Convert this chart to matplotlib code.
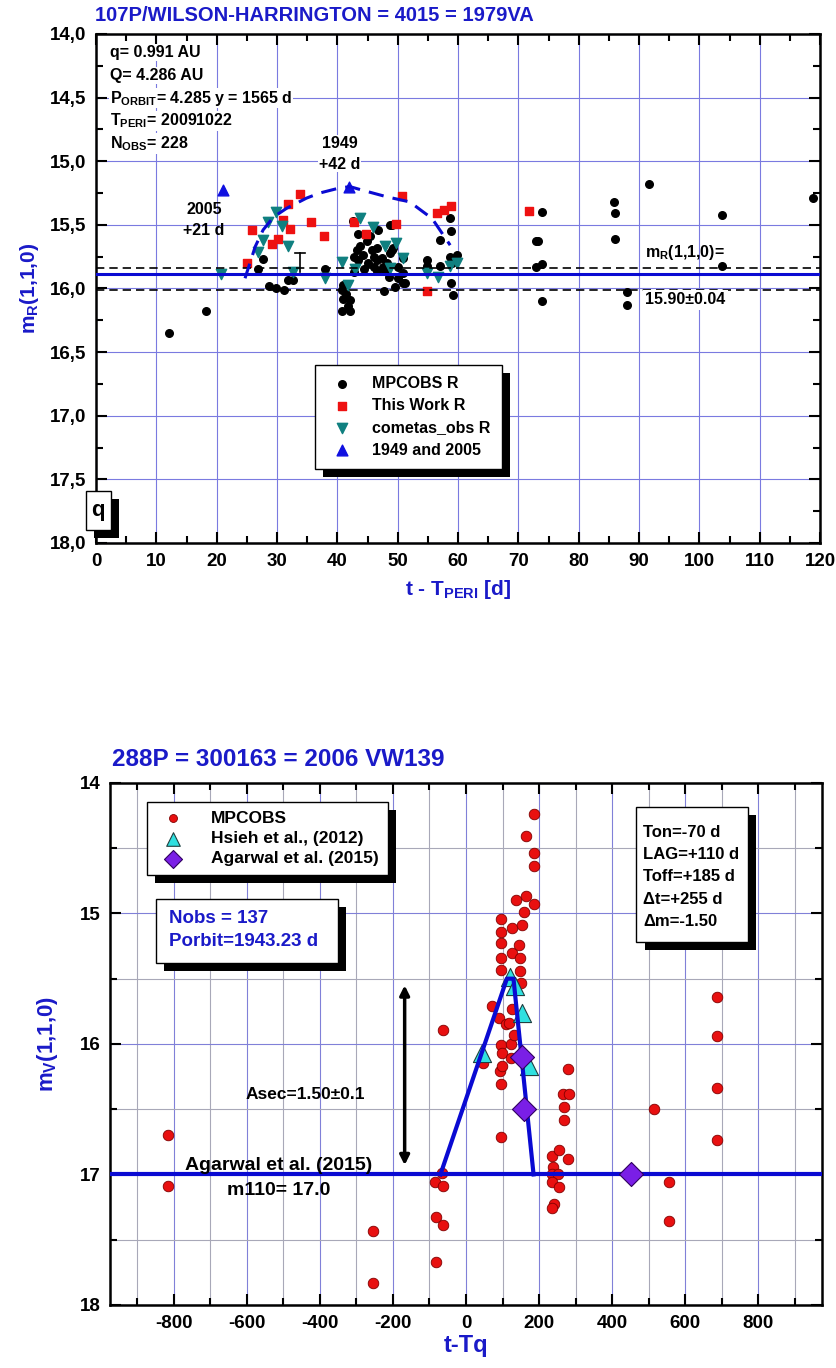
import matplotlib
matplotlib.use("Agg")
import matplotlib.pyplot as plt
import matplotlib.patheffects as pe
from matplotlib.patches import Rectangle
from matplotlib.ticker import MultipleLocator, FuncFormatter
import numpy as np

plt.rcParams['font.family'] = ['Liberation Sans', 'DejaVu Sans']
plt.rcParams['font.weight'] = 'bold'
plt.rcParams['axes.labelweight'] = 'bold'
plt.rcParams['axes.unicode_minus'] = False
plt.rcParams['mathtext.fontset'] = 'custom'
plt.rcParams['mathtext.rm'] = 'Liberation Sans:bold'
plt.rcParams['mathtext.bf'] = 'Liberation Sans:bold'
plt.rcParams['mathtext.it'] = 'Liberation Sans:bold'

BLUE = '#1a1ac8'
LINE_BLUE = '#0a0ad2'

# ---------------- 107P data ----------------
mpc_t = [12.15, 18.2,
         26.9, 27.7, 28.6, 29.8, 31.1, 31.9, 32.7,
         37.9, 40.7, 40.9, 41.0, 41.8, 42.1, 40.7, 42.1, 41.5,
         42.7, 42.65, 43.5, 42.7, 43.2, 43.8, 43.5, 44.3, 44.9, 45.4, 46.8,
         46.0, 46.5, 47.4, 46.0, 46.5, 47.9, 48.2, 48.7, 49.3, 48.5, 47.7,
         49.6, 48.7, 49.0, 50.1, 50.9, 50.9, 51.2, 50.9, 46.5, 47.6, 49.0,
         50.1, 45.0, 44.5, 45.8,
         54.8, 54.8, 57.0, 57.0, 58.7, 58.8, 58.7, 59.0, 58.8, 59.1, 59.8, 59.5,
         73.0, 73.3, 74.0, 73.0, 74.0, 74.0, 85.8, 86.0, 86.0, 88.0, 88.0,
         91.7, 103.7, 103.7, 118.9]
mpc_m = [16.35, 16.18,
         15.85, 15.77, 15.98, 16.00, 16.01, 15.93, 15.93,
         15.85, 16.01, 15.97, 16.08, 16.14, 16.09, 16.18, 16.18, 16.04,
         15.87, 15.47, 15.57, 15.75, 15.70, 15.67, 15.78, 15.74, 15.63, 15.59, 15.54,
         15.75, 15.78, 15.76, 15.83, 15.86, 15.86, 15.80, 15.72, 15.68, 15.91, 16.02,
         15.99, 15.50, 15.50, 15.83, 15.88, 15.96, 15.96, 15.76, 15.68, 15.83, 15.70,
         15.92, 15.80, 15.85, 15.70,
         15.78, 15.82, 15.62, 15.82, 15.45, 15.55, 15.75, 15.80, 15.96, 16.05, 15.74, 15.78,
         15.63, 15.63, 15.40, 15.83, 15.81, 16.10, 15.32, 15.41, 15.61, 16.03, 16.13,
         15.18, 15.42, 15.82, 15.29]

work_t = [25.1, 25.8, 29.1, 30.1, 31.0, 32.2, 31.9, 33.8, 35.7, 37.8,
          42.7, 44.8, 49.8, 50.8, 54.9, 56.5, 57.6, 58.8, 71.8]
work_m = [15.80, 15.54, 15.65, 15.61, 15.46, 15.53, 15.34, 15.26, 15.48, 15.59,
          15.48, 15.57, 15.49, 15.27, 16.02, 15.41, 15.38, 15.35, 15.39]

cometas_t = [20.8, 26.9, 27.7, 28.5, 29.9, 30.8, 31.9, 32.7, 37.9, 40.8, 41.8,
             42.9, 43.8, 45.9, 47.9, 48.7, 49.8, 50.9, 54.8, 56.7, 58.7, 59.8]
cometas_m = [15.89, 15.71, 15.62, 15.48, 15.40, 15.51, 15.67, 15.87, 15.92, 15.79, 15.97,
             15.85, 15.45, 15.52, 15.67, 15.84, 15.64, 15.76, 15.88, 15.91, 15.82, 15.80]

old_t = [21.0, 42.0]
old_m = [15.23, 15.20]

arc_t = [24.7, 26.4, 27.7, 29.4, 31.6, 34.9, 37.1, 40.4, 42.1, 44.3, 48.2, 52.0, 53.7, 55.7, 58.7]
arc_m = [15.92, 15.67, 15.54, 15.44, 15.37, 15.29, 15.25, 15.21, 15.20, 15.23, 15.28, 15.32, 15.38, 15.45, 15.66]

mr_level = 15.89
mr_band = [15.84, 16.01]
err_t = 33.8
err_m = [15.72, 15.87]

# ---------------- 288P data ----------------
obs_t = [-816, -816, -255, -255,
         -63, -65, -85, -62, -81, -62, -83,
         46, 72, 90, 95, 95, 95, 95, 95, 95, 93, 95, 95, 99, 99, 109, 118, 122, 122,
         125, 127, 131, 136, 145, 147, 147, 154, 159, 163, 165, 186, 186, 186, 186,
         150, 127,
         236, 238, 236, 253, 236, 255, 241, 236, 255, 280, 266, 282, 268, 268, 280,
         515, 556, 556, 688, 688, 688, 688]
obs_m = [16.70, 17.09, 17.43, 17.83,
         15.89, 16.99, 17.06, 17.09, 17.33, 17.39, 17.67,
         16.15, 15.71, 15.80, 15.04, 15.14, 15.23, 15.34, 15.43, 16.01, 16.21, 16.31, 16.71, 16.07, 16.17, 15.85, 15.84, 16.00, 16.11,
         15.30, 15.11, 15.93, 14.90, 15.24, 15.34, 15.44, 15.09, 14.99, 14.87, 14.41, 14.24, 14.54, 14.64, 14.93,
         15.53, 15.73,
         16.86, 16.94, 17.00, 17.00, 17.06, 17.10, 17.23, 17.26, 16.81, 16.88, 16.38, 16.38, 16.48, 16.58, 16.19,
         16.50, 17.06, 17.36, 15.64, 15.94, 16.34, 16.74]

hsieh_t = [43, 120, 133, 154, 172]
hsieh_m = [16.07, 15.49, 15.56, 15.76, 16.17]

agarwal_t = [152, 160, 453]
agarwal_m = [16.10, 16.50, 17.00]

m110 = 17.0
model_t = [-70, 112, 130, 185]
model_m = [17.0, 15.5, 15.5, 17.0]
asec_t = -168
asec_m = [15.53, 16.95]

shadow = [pe.SimplePatchShadow(offset=(6, -6), shadow_rgbFace='black', alpha=1.0), pe.Normal()]


def shadow_box(ax, x0, y0, x1, y1):
    r = Rectangle((x0, y0), x1 - x0, y1 - y0, transform=ax.transAxes,
                  facecolor='white', edgecolor='black', lw=1.0, zorder=8, clip_on=False)
    r.set_path_effects(shadow)
    ax.add_patch(r)


def style_axes(ax):
    for s in ax.spines.values():
        s.set_linewidth(1.8)
    ax.tick_params(which='both', direction='in', top=True, right=True, width=1.5,
                   labelsize=13.5, pad=7)
    ax.tick_params(which='major', length=8)
    ax.tick_params(which='minor', length=5)


fig = plt.figure(figsize=(8.37, 13.68), dpi=100)

# ================= top panel =================
ax1 = fig.add_axes([0.1147, 0.6031, 0.865, 0.3721])
style_axes(ax1)
ax1.set_xlim(0, 120)
ax1.set_ylim(18, 14)
ax1.xaxis.set_major_locator(MultipleLocator(10))
ax1.xaxis.set_minor_locator(MultipleLocator(5))
ax1.yaxis.set_major_locator(MultipleLocator(0.5))
ax1.yaxis.set_minor_locator(MultipleLocator(0.25))
ax1.yaxis.set_major_formatter(FuncFormatter(lambda v, p: f"{v:.1f}".replace('.', ',')))
ax1.grid(True, which='major', color='#7a7ae0', lw=0.8)
ax1.set_axisbelow(True)

h_mpc = ax1.scatter(mpc_t, mpc_m, s=30, color='black', zorder=3, label='MPCOBS R')
h_work = ax1.scatter(work_t, work_m, s=40, marker='s', color='#ee1111', zorder=3, label='This Work R')
h_com = ax1.scatter(cometas_t, cometas_m, s=55, marker='v', color='#108080', zorder=3, label='cometas_obs R')
h_old = ax1.scatter(old_t, old_m, s=60, marker='^', color='#1010e0', zorder=4, label='1949 and 2005')

ax1.plot(arc_t, arc_m, ls=(0, (5, 3)), color=LINE_BLUE, lw=2.2, zorder=5)
ax1.axhline(mr_level, color=LINE_BLUE, lw=2.2, zorder=5)
for lvl in mr_band:
    ax1.axhline(lvl, color='black', lw=1.2, ls=(0, (5, 3)), zorder=4)
ax1.plot([err_t, err_t], err_m, color='black', lw=1.2, zorder=4)
ax1.plot([err_t - 0.8, err_t + 0.8], [err_m[0], err_m[0]], color='black', lw=1.2, zorder=4)

ax1.text(91.0, 15.72, r'm$_\mathrm{R}$(1,1,0)=', fontsize=11.5, va='center', ha='left', zorder=6)
ax1.text(91.0, 16.09, '15.90±0.04', fontsize=11.5, va='center', ha='left', zorder=6,
         bbox=dict(boxstyle='square,pad=0.15', fc='white', ec='none'))
ax1.text(17.9, 15.46, '2005\n+21 d', fontsize=11.5, ha='center', va='center', linespacing=1.5)
ax1.text(40.4, 14.94, '1949\n+42 d', fontsize=11.5, ha='center', va='center', linespacing=1.5,
         zorder=6, bbox=dict(boxstyle='square,pad=0.05', fc='white', ec='none'))

info = ['q= 0.991 AU', 'Q= 4.286 AU', r'P$_\mathrm{ORBIT}$= 4.285 y = 1565 d',
        r'T$_\mathrm{PERI}$= 20091022', r'N$_\mathrm{OBS}$= 228']
for i, line in enumerate(info):
    ax1.text(0.019, 0.963 - i * 0.0445, line, transform=ax1.transAxes, fontsize=11.5,
             va='center', ha='left', zorder=6,
             bbox=dict(boxstyle='square,pad=0.05', fc='white', ec='none'))

leg1 = ax1.legend(handles=[h_mpc, h_work, h_com, h_old], loc='upper left',
                  bbox_to_anchor=(0.302, 0.35), fontsize=11.5, frameon=True, fancybox=False,
                  edgecolor='black', framealpha=1, borderpad=0.7, labelspacing=0.45,
                  handletextpad=0.9, borderaxespad=0, scatterpoints=1)
leg1.get_frame().set_linewidth(1.0)
leg1.get_frame().set_path_effects(shadow)
leg1.set_zorder(9)

shadow_box(ax1, -0.014, 0.0255, 0.0207, 0.102)
ax1.text(0.003, 0.064, 'q', transform=ax1.transAxes, fontsize=16, ha='center', va='center', zorder=9)

ax1.set_xlabel(r't - T$_\mathrm{PERI}$ [d]', fontsize=15, color=BLUE, labelpad=6)
ax1.set_ylabel(r'm$_\mathrm{R}$(1,1,0)', fontsize=15, color=BLUE, labelpad=6)
fig.text(95 / 837, 1 - 15.5 / 1368, '107P/WILSON-HARRINGTON = 4015 = 1979VA',
         fontsize=14.5, color=BLUE, va='center', ha='left')

# ================= bottom panel =================
ax2 = fig.add_axes([0.1314, 0.0461, 0.8507, 0.3816])
style_axes(ax2)
ax2.set_xlim(-975, 975)
ax2.set_ylim(18, 14)
ax2.xaxis.set_major_locator(MultipleLocator(200))
ax2.xaxis.set_minor_locator(MultipleLocator(100))
ax2.yaxis.set_major_locator(MultipleLocator(1))
ax2.yaxis.set_minor_locator(MultipleLocator(0.5))
ax2.grid(True, which='major', color='#8080d8', lw=0.8)
ax2.grid(True, which='minor', color='#a8a8b8', lw=0.8)
ax2.set_axisbelow(True)

h_obs = ax2.scatter(obs_t, obs_m, s=58, color='#e81010', edgecolor='#800000', lw=0.6,
                    zorder=3, label='MPCOBS')
h_hs = ax2.scatter(hsieh_t, hsieh_m, s=170, marker='^', color='#30e0e0', edgecolor='#204040',
                   lw=0.8, zorder=4, label='Hsieh et al., (2012)')
ax2.axhline(m110, color=LINE_BLUE, lw=3, zorder=5)
ax2.plot(model_t, model_m, color=LINE_BLUE, lw=3, zorder=5)
h_ag = ax2.scatter(agarwal_t, agarwal_m, s=150, marker='D', color='#7a1fe6', edgecolor='#300060',
                   lw=0.8, zorder=6, label='Agarwal et al. (2015)')
ax2.annotate('', xy=(asec_t, asec_m[0]), xytext=(asec_t, asec_m[1]),
             arrowprops=dict(arrowstyle='<|-|>', color='black', lw=2.5, mutation_scale=14))

ax2.text(-441, 16.39, 'Asec=1.50±0.1', fontsize=12.5, ha='center', va='center')
ax2.text(-512, 16.93, 'Agarwal et al. (2015)', fontsize=14, ha='center', va='center', zorder=6)
ax2.text(-512, 17.12, 'm110= 17.0', fontsize=14, ha='center', va='center', zorder=6)

leg2 = ax2.legend(handles=[h_obs, h_hs, h_ag], loc='upper left', bbox_to_anchor=(0.052, 0.9636),
                  fontsize=12.5, frameon=True, fancybox=False, edgecolor='black', framealpha=1,
                  borderpad=0.5, labelspacing=0.3, handletextpad=1.2, borderaxespad=0,
                  scatterpoints=1, markerscale=0.75)
leg2.get_frame().set_linewidth(1.0)
leg2.get_frame().set_path_effects(shadow)
leg2.set_zorder(9)

shadow_box(ax2, 0.0646, 0.655, 0.320, 0.778)
ax2.text(0.083, 0.740, 'Nobs = 137', transform=ax2.transAxes, fontsize=13.5, color=BLUE,
         va='center', ha='left', zorder=9)
ax2.text(0.083, 0.696, 'Porbit=1943.23 d', transform=ax2.transAxes, fontsize=13.5, color=BLUE,
         va='center', ha='left', zorder=9)

shadow_box(ax2, 0.739, 0.695, 0.896, 0.954)
right_lines = ['Ton=-70 d', 'LAG=+110 d', 'Toff=+185 d', '\u0394t=+255 d', '\u0394m=-1.50']
for i, line in enumerate(right_lines):
    ax2.text(0.749, 0.905 - i * 0.0425, line, transform=ax2.transAxes, fontsize=12,
             va='center', ha='left', zorder=9)

ax2.set_xlabel('t-Tq', fontsize=17, color=BLUE, labelpad=2)
ax2.set_ylabel(r'm$_\mathrm{V}$(1,1,0)', fontsize=16, color=BLUE, labelpad=14)
fig.text(112 / 837, 1 - 759 / 1368, '288P = 300163 = 2006 VW139',
         fontsize=17.5, color=BLUE, va='center', ha='left')

fig.savefig('out.png', dpi=100)
